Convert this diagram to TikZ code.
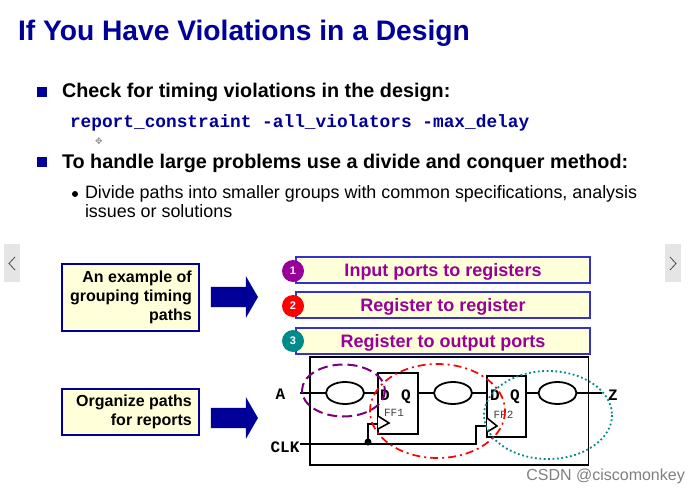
\documentclass[tikz,border=0pt]{standalone}
\usepackage{fontspec}
\setmainfont{Liberation Sans}
\setmonofont{Liberation Mono}
\usetikzlibrary{shapes.geometric,shapes.arrows}
\definecolor{navy}{HTML}{000099}
\definecolor{pale}{HTML}{FFFFD9}
\definecolor{edge}{HTML}{3333CC}
\definecolor{purp}{HTML}{990099}
\definecolor{teal2}{HTML}{008B8B}
\newcommand{\fs}[1]{\fontsize{#1}{#1}\selectfont}
\tikzset{
  x=1pt,y=-1pt,
  txt/.style={anchor=base west,inner sep=0pt,outer sep=0pt},
  bul/.style={fill=navy,draw=none,minimum size=10pt,inner sep=0pt,outer sep=0pt},
  head/.style={txt,font=\fs{19.8}\bfseries},
  note/.style={draw=navy,line width=1.8pt,fill=pale,inner sep=0pt,outer sep=0pt},
  notetext/.style={anchor=east,inner sep=0pt,align=right,font=\fs{16}\bfseries},
  bar/.style={draw=edge,line width=1.8pt,fill=pale,inner sep=0pt,outer sep=0pt,minimum width=294pt,minimum height=26pt,text=purp,text height=12pt,text depth=0pt,font=\fs{18}\bfseries},
  num/.style={circle,minimum size=22pt,inner sep=0pt,text=white,font=\fs{11}\bfseries},
  bigarrow/.style={fill=navy,draw=none,single arrow,single arrow head extend=10.5pt,single arrow head indent=0pt,single arrow tip angle=120,minimum height=47pt,inner xsep=0pt,inner ysep=10pt,outer sep=0pt},
  delay/.style={ellipse,draw=black,line width=1.8pt,minimum width=38pt,minimum height=22pt,inner sep=0pt,outer sep=0pt},
  ffbox/.style={draw=black,line width=2pt,minimum width=40pt,minimum height=61pt,inner sep=0pt,outer sep=0pt},
  wire/.style={draw=black,line width=1.5pt},
  mono/.style={anchor=base,inner sep=0pt,font=\fs{16}\ttfamily\bfseries},
  ffname/.style={anchor=base,inner sep=0pt,text=black!75,font=\fs{11}\ttfamily},
  navbtn/.style={fill=black!10,draw=none,minimum width=16pt,minimum height=38pt,inner sep=0pt},
}
\begin{document}
\begin{tikzpicture}
\useasboundingbox (0,0) rectangle (700,494);
\fill[white] (0,0) rectangle (700,494);

% title and text
\node[txt,text=navy,font=\fs{28.2}\bfseries] (title) at (18,41) {If You Have Violations in a Design};
\node[bul] (b1) at (42,92) {};
\node[head] (t1) at (62,98) {Check for timing violations in the design:};
\node[txt,text=navy,font=\fs{17.8}\ttfamily\bfseries] (cmd) at (70,128) {report\_constraint -all\_violators -max\_delay};
\node[txt,text=black!45,font=\fs{9}\fontspec{DejaVu Sans}] (cur) at (95,145) {✥};
\node[bul] (b2) at (42,162) {};
\node[head] (t2) at (62,169) {To handle large problems use a divide and conquer method:};
\node[circle,fill=black,minimum size=6pt,inner sep=0pt] (b3) at (75,194) {};
\node[txt,font=\fs{17.9}] (t3) at (85,199) {Divide paths into smaller groups with common specifications, analysis};
\node[txt,font=\fs{17.9}] (t4) at (85,218) {issues or solutions};

% nav buttons
\node[navbtn] (navl) at (12,263) {};
\draw[black!70,line width=.8pt] (15,257) -- (9,263.5) -- (15,270);
\node[navbtn] (navr) at (673,263) {};
\draw[black!70,line width=.8pt] (670,257) -- (676,263.5) -- (670,270);

% notes and arrows
\node[note,minimum width=137pt,minimum height=67pt] (n1) at (130.5,297.5) {};
\node[notetext] (n1t) at (192,297.5) {An example of\\[3pt]grouping timing\\[3pt]paths};
\node[note,minimum width=137pt,minimum height=46pt] (n2) at (130.5,412) {};
\node[notetext] (n2t) at (192,411.5) {Organize paths\\[3pt]for reports};
\node[bigarrow] (a1) at (231.5,297) {};
\node[bigarrow] (a2) at (231.5,418) {};

% bars
\node[bar] (p1) at (443,270) {Input ports to registers};
\node[bar] (p2) at (443,305) {Register to register};
\node[bar] (p3) at (443,341) {Register to output ports};
\node[num,fill=purp] (c1) at (293,271) {1};
\node[num,fill=red] (c2) at (293,306) {2};
\node[num,fill=teal2] (c3) at (293,341) {3};

% circuit
\node[draw=black,line width=1.9pt,minimum width=278.5pt,minimum height=108pt,inner sep=0pt] (chip) at (449.25,411) {};
\node[ffbox] (ff1) at (398,403.5) {};
\node[ffbox,minimum width=39pt] (ff2) at (506.5,406) {};
\node[delay] (d1) at (345,393) {};
\node[delay] (d2) at (453,393) {};
\node[delay] (d3) at (557.5,393) {};
\node[mono] (la) at (280.5,399) {A};
\node[mono] (lclk) at (285,452) {CLK};
\node[mono] (lz) at (613,400) {Z};
\node[mono] (d1l) at (385,400) {D};
\node[mono] (q1l) at (406,400) {Q};
\node[mono] (d2l) at (495,400) {D};
\node[mono] (q2l) at (515,400) {Q};
\node[ffname] (f1) at (394,416) {FF1};
\node[ffname] (f2) at (503.5,418) {FF2};
\coordinate (ain) at (300,393);
\coordinate (zout) at (602,393);
\coordinate (clkin) at (300,444);
\coordinate (ck1) at (378,424);
\coordinate (ck2) at (487,426);
\coordinate (dot) at (368,442);
\coordinate (k) at (476,444);
\draw[wire] (ain) -- (d1.west);
\draw[wire] (d1.east) -- (378,393);
\draw[wire] (418,393) -- (d2.west);
\draw[wire] (d2.east) -- (487,393);
\draw[wire] (526,393) -- (d3.west);
\draw[wire] (d3.east) -- (zout);
\draw[wire] (clkin) -- (k) -- (476,426) -- (ck2);
\draw[wire] (dot) -- (368,424) -- (ck1);
\fill (dot) circle (3.5);
\draw[black,line width=1.6pt,fill=white] (378,416) -- (389,423) -- (378,429);
\draw[black,line width=1.6pt,fill=white] (487,418) -- (497,426) -- (487,432);

% groups
\draw[purp!80!black,line width=2pt,dash pattern=on 10pt off 5pt] (343.5,390.5) ellipse [x radius=41.5,y radius=26];
\draw[red,line width=1.7pt,dash pattern=on 8pt off 4pt on 2pt off 4pt] (437.5,411) ellipse [x radius=67.5,y radius=47];
\draw[teal2,line width=1.8pt,dash pattern=on 1.8pt off 2.6pt] (548,415) ellipse [x radius=64,y radius=44];

% watermark
\node[anchor=base east,inner sep=0pt,text=black!50,font=\fs{16}] (wm) at (685,480) {CSDN @ciscomonkey};
\end{tikzpicture}
\end{document}
